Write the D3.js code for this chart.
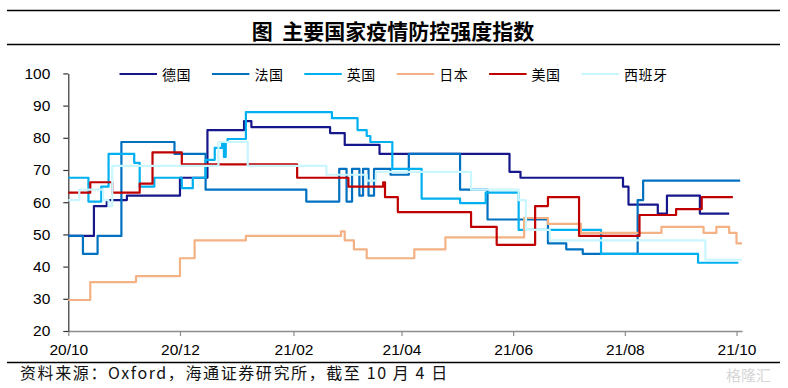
<!DOCTYPE html>
<html><head><meta charset="utf-8">
<script src="https://cdn.jsdelivr.net/npm/d3@7"></script>
<style>
html,body{margin:0;padding:0;background:#fff;}
svg{display:block;}
</style></head>
<body>
<svg id="c" width="788" height="388"></svg>
<script>
const title = "图  主要国家疫情防控强度指数";
const source = "资料来源：Oxford，海通证券研究所，截至 10 月 4 日";
const seriesNames = ["德国","法国","英国","日本","美国","西班牙"];
const seriesColors = ["#16178A","#0070C0","#00B0F0","#F4B183","#C00000","#C9F6FF"];
const yTicks = [20,30,40,50,60,70,80,90,100];
const xTickDates = ["2020-10-01","2020-12-01","2021-02-01","2021-04-01","2021-06-01","2021-08-01","2021-10-01"];

const germany = [["2020-10-01",49.54],["2020-10-15",58.8],["2020-10-22",60.65],["2020-11-02",62.04],["2020-12-01",67.59],["2020-12-16",82.41],["2021-01-05",85.19],["2021-01-09",83.33],["2021-02-21",81.48],["2021-03-01",77.78],["2021-03-20",75.0],["2021-05-30",69.44],["2021-06-05",67.59],["2021-07-31",64.81],["2021-08-03",59.26],["2021-08-19",56.48],["2021-08-24",62.04],["2021-09-11",56.48],["2021-09-27",56.48]];
const france = [["2020-10-01",49.54],["2020-10-09",43.98],["2020-10-17",49.54],["2020-10-30",78.7],["2020-11-28",75.0],["2020-12-15",63.89],["2021-02-08",60.19],["2021-02-26",70.37],["2021-03-02",60.19],["2021-03-05",70.37],["2021-03-09",62.04],["2021-03-11",70.37],["2021-03-14",62.04],["2021-03-17",70.37],["2021-03-26",68.52],["2021-04-05",75.0],["2021-05-03",63.89],["2021-05-18",54.63],["2021-06-20",47.22],["2021-06-30",45.37],["2021-07-09",43.98],["2021-08-08",60.65],["2021-08-11",66.67],["2021-10-03",66.67]];
const uk = [["2020-10-01",67.59],["2020-10-12",60.19],["2020-10-19",64.81],["2020-10-23",75.0],["2020-11-06",72.22],["2020-11-09",64.81],["2020-11-17",67.59],["2020-12-02",64.35],["2020-12-08",67.59],["2020-12-15",73.15],["2020-12-20",76.85],["2020-12-24",78.7],["2020-12-25",74.07],["2020-12-26",78.7],["2020-12-27",79.63],["2021-01-06",87.96],["2021-02-22",86.11],["2021-03-08",82.41],["2021-03-13",80.56],["2021-03-15",78.7],["2021-03-27",70.37],["2021-04-12",61.11],["2021-05-03",59.72],["2021-05-17",62.96],["2021-06-04",51.39],["2021-07-19",43.98],["2021-09-10",41.2],["2021-10-02",41.2]];
const japan = [["2020-10-01",29.63],["2020-10-13",35.19],["2020-11-07",37.04],["2020-12-01",42.59],["2020-12-09",48.15],["2021-01-06",49.54],["2021-02-27",50.93],["2021-03-01",48.15],["2021-03-06",45.37],["2021-03-13",42.59],["2021-04-08",45.37],["2021-04-25",49.07],["2021-06-07",55.09],["2021-06-20",53.24],["2021-07-08",50.46],["2021-08-21",52.31],["2021-09-13",50.46],["2021-09-20",52.31],["2021-09-27",50.46],["2021-10-01",47.22],["2021-10-04",47.22]];
const usa = [["2020-10-01",62.96],["2020-10-13",66.2],["2020-10-25",62.96],["2020-11-09",65.74],["2020-11-16",75.46],["2020-12-02",71.76],["2021-02-03",67.59],["2021-03-03",64.81],["2021-03-22",66.2],["2021-03-23",61.57],["2021-03-30",56.94],["2021-05-09",52.31],["2021-05-23",46.76],["2021-06-13",58.8],["2021-06-20",61.57],["2021-07-07",49.54],["2021-08-09",56.02],["2021-08-29",57.87],["2021-09-12",61.57],["2021-09-29",61.57]];
const spain = [["2020-10-01",60.65],["2020-10-07",63.89],["2020-10-20",60.65],["2020-10-23",58.8],["2020-10-25",71.3],["2020-12-22",78.7],["2021-01-07",71.3],["2021-02-19",68.52],["2021-03-13",66.67],["2021-03-18",69.44],["2021-05-09",63.89],["2021-06-04",60.65],["2021-06-08",51.39],["2021-06-21",48.15],["2021-09-14",42.13],["2021-10-04",42.13]];

const allSeries = [germany, france, uk, japan, usa, spain];

const parse = d3.utcParse("%Y-%m-%d");
const svg = d3.select("#c");

// header
svg.append("line").attr("x1",7).attr("x2",780).attr("y1",10.5).attr("y2",10.5).attr("stroke","#000").attr("stroke-width",1.3);
svg.append("line").attr("x1",7).attr("x2",780).attr("y1",44.5).attr("y2",44.5).attr("stroke","#000").attr("stroke-width",1.3);
svg.append("text").attr("x",393).attr("y",38.5).attr("text-anchor","middle")
  .attr("font-family","'Noto Sans CJK SC'").attr("font-weight",700).attr("font-size",21)
  .attr("xml:space","preserve").style("white-space","pre").text(title);

// footer
svg.append("line").attr("x1",7).attr("x2",780).attr("y1",362.5).attr("y2",362.5).attr("stroke","#000").attr("stroke-width",1.3);
svg.append("text").attr("x",20).attr("y",379)
  .attr("font-family","'Noto Sans CJK SC'").attr("font-size",16).attr("letter-spacing",1.6).attr("fill","#111").text(source);
svg.append("text").attr("x",726).attr("y",381)
  .attr("font-family","'Noto Sans CJK SC'").attr("font-size",15).attr("fill","#d6d6d6").text("格隆汇");

const x = d3.scaleUtc().domain([parse("2020-10-01"), parse("2021-10-04")]).range([68.3, 742]);
const y = d3.scaleLinear().domain([20,100]).range([331, 73.4]);

// axes
const gx = svg.append("g").attr("transform","translate(0,331)")
  .call(d3.axisBottom(x).tickValues(xTickDates.map(parse)).tickFormat(d3.utcFormat("%y/%m")).tickSize(5).tickPadding(8).tickSizeOuter(0));
gx.select(".domain").attr("stroke","#8c8c8c").attr("stroke-width",1.5);
gx.selectAll(".tick line").attr("stroke","#8c8c8c").attr("stroke-width",1.2);
gx.selectAll("text").attr("font-family","'Liberation Sans', Arial").attr("font-size",15.5).attr("fill","#000");

const gy = svg.append("g").attr("transform","translate(68.3,0)")
  .call(d3.axisLeft(y).tickValues(yTicks).tickSize(5).tickPadding(13).tickSizeOuter(0));
gy.select(".domain").attr("stroke","#333").attr("stroke-width",1.2);
gy.selectAll(".tick line").attr("stroke","#333").attr("stroke-width",1.2);
gy.selectAll("text").attr("font-family","'Liberation Sans', Arial").attr("font-size",15.5).attr("fill","#000");

// lines
const line = d3.line().x(d => x(parse(d[0]))).y(d => y(d[1])).curve(d3.curveStepAfter);
allSeries.forEach((s,i) => {
  svg.append("path").datum(s).attr("d", line).attr("fill","none")
    .attr("stroke", seriesColors[i]).attr("stroke-width",2.2).attr("stroke-linejoin","round");
});

// legend
seriesNames.forEach((n,i) => {
  const x0 = 119.5 + i*92.4;
  svg.append("line").attr("x1",x0).attr("x2",x0+37.5).attr("y1",74).attr("y2",74)
    .attr("stroke",seriesColors[i]).attr("stroke-width",2.2);
  svg.append("text").attr("x",x0+42.5).attr("y",79.5)
    .attr("font-family","'Noto Sans CJK SC'").attr("font-size",14).attr("letter-spacing",0.5).attr("fill","#000").text(n);
});
</script>
</body></html>
